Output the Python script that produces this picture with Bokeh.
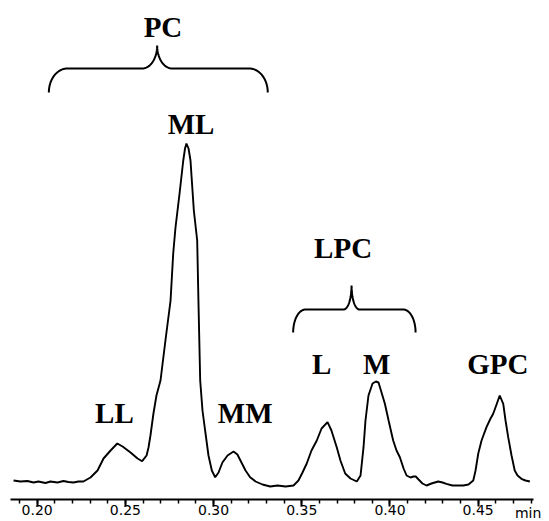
import numpy as np
from bokeh.plotting import figure
from bokeh.models import Range1d, LinearAxis, FixedTicker, NumeralTickFormatter
from bokeh.core.properties import value
from bokeh.embed import file_html
from bokeh.resources import INLINE

# ---- chromatogram trace (time in min, detector signal in arbitrary units) ----
time_min = [0.1866, 0.1905, 0.1945, 0.1979, 0.2007, 0.2047, 0.2075, 0.2115, 0.2149, 0.2177,
            0.2206, 0.2234, 0.2262, 0.2302, 0.2342, 0.2376, 0.2416, 0.2454, 0.2484, 0.2529,
            0.2569, 0.2595, 0.2620, 0.2631, 0.2642, 0.2659, 0.2676, 0.2699, 0.2727, 0.2756,
            0.2771, 0.2784, 0.2807, 0.2828, 0.2838, 0.2846, 0.2858, 0.2869, 0.2888, 0.2907,
            0.2914, 0.2924, 0.2937, 0.2952, 0.2971, 0.2990, 0.3009, 0.3028, 0.3050, 0.3079,
            0.3113, 0.3135, 0.3158, 0.3181, 0.3207, 0.3238, 0.3277, 0.3321, 0.3362, 0.3408,
            0.3453, 0.3481, 0.3504, 0.3528, 0.3555, 0.3585, 0.3612, 0.3646, 0.3668, 0.3698,
            0.3719, 0.3746, 0.3776, 0.3812, 0.3833, 0.3850, 0.3861, 0.3878, 0.3901, 0.3920,
            0.3935, 0.3952, 0.3971, 0.3992, 0.4018, 0.4037, 0.4056, 0.4077, 0.4094, 0.4116,
            0.4133, 0.4146, 0.4162, 0.4184, 0.4207, 0.4235, 0.4273, 0.4298, 0.4320, 0.4354,
            0.4388, 0.4415, 0.4445, 0.4472, 0.4485, 0.4500, 0.4519, 0.4547, 0.4570, 0.4585,
            0.4604, 0.4622, 0.4642, 0.4655, 0.4670, 0.4689, 0.4707, 0.4723, 0.4745, 0.4768,
            0.4793]
signal = [19, 18, 18.5, 17, 18, 16.5, 18, 17, 18.5, 17.5,
          17, 18, 18, 22, 29, 41, 49, 56, 53, 47,
          41, 38.3, 44, 52, 64, 86, 104, 119, 159, 199,
          246, 272, 306, 339, 351, 356, 351, 339, 289, 259,
          199, 119, 89, 69, 44, 29, 22.3, 27, 37, 44,
          48, 45, 37, 29, 22.3, 18, 15, 13, 14, 13,
          14, 19, 27, 36, 49, 59, 71, 77.3, 69, 52.3,
          39, 26, 21, 18, 24, 52.3, 79, 104, 116, 118,
          117, 107, 95.7, 79, 59, 49, 42.3, 31, 24, 22,
          23, 23, 20, 16, 14, 16, 18, 17, 15.7, 14,
          14, 14, 15, 19, 29, 45.7, 59, 72.3, 81, 85.7,
          95, 104, 95.7, 79, 62.3, 44, 29, 24, 20.7, 19,
          18]

# ---- axis ticks ----
tick_values = [0.20, 0.25, 0.30, 0.35, 0.40, 0.45]
tick_labels = ["0.20", "0.25", "0.30", "0.35", "0.40", "0.45"]
minor_values = [round(0.19 + 0.01 * i, 2) for i in range(30)]
axis_unit = "min"
axis_unit_pos = 0.4783

# ---- peak / group labels ----
peak_names = ["ML", "LL", "MM", "L", "M", "GPC"]
group_names = ["PC", "LPC"]

# label placement (data coordinates)
peak_label_x = [0.2872, 0.2438, 0.3179, 0.3612, 0.3924, 0.4611]
peak_label_y = [376, 87, 87, 136, 136, 136]
group_label_x = [0.2713, 0.3734]
group_label_y = [473, 252]

# brace geometry: (x_start, x_end, x_tip, y_end, y_line, y_tip, end_radius, tip_radius)
braces = [
    (0.2066, 0.3307, 0.2680, 407, 431, 454, 0.0105, 0.0085),
    (0.3451, 0.4145, 0.3782, 167, 190, 214, 0.0070, 0.0045),
]


def brace_path(x0, x1, xt, ye, yh, yt, re, rt, n=24):
    ry_e = yh - ye
    ry_t = yt - yh
    a = np.linspace(np.pi, np.pi / 2, n)
    lx = x0 + re + re * np.cos(a)
    ly = ye + ry_e * np.sin(a)
    b = np.linspace(-np.pi / 2, 0, n)
    tx = xt - rt + rt * np.cos(b)
    ty = yt + ry_t * np.sin(b)
    b2 = np.linspace(np.pi, 3 * np.pi / 2, n)
    tx2 = xt + rt + rt * np.cos(b2)
    ty2 = yt + ry_t * np.sin(b2)
    a2 = np.linspace(np.pi / 2, 0, n)
    rx_ = x1 - re + re * np.cos(a2)
    ry_ = ye + ry_e * np.sin(a2)
    xs = np.concatenate([lx, tx, tx2, rx_])
    ys = np.concatenate([ly, ty, ty2, ry_])
    return xs, ys


p = figure(width=549, height=521,
           x_range=Range1d(0.179195, 0.490420), y_range=Range1d(-22, 499),
           x_axis_location=None, y_axis_location=None,
           toolbar_location=None, output_backend="svg", min_border=0)
p.outline_line_color = None
p.background_fill_color = "white"
p.grid.visible = False

p.line(time_min, signal, line_color="black", line_width=1.9)

for (x0, x1, xt, ye, yh, yt, re, rt) in braces:
    xs, ys = brace_path(x0, x1, xt, ye, yh, yt, re, rt)
    p.line(xs, ys, line_color="black", line_width=2)

label_font = value("Liberation Serif")
p.text(x=peak_label_x, y=peak_label_y, text=peak_names, text_font=label_font,
       text_font_style="bold", text_font_size="29px", text_align="center",
       text_baseline="alphabetic", text_color="black")
p.text(x=group_label_x, y=group_label_y, text=group_names, text_font=label_font,
       text_font_style="bold", text_font_size="29px", text_align="center",
       text_baseline="alphabetic", text_color="black")


def style_axis(a):
    a.major_tick_in = 0
    a.major_tick_out = 7
    a.minor_tick_in = 0
    a.minor_tick_out = 4
    a.major_label_standoff = -1
    a.major_label_text_font = "DejaVu Sans"
    a.major_label_text_font_size = "14px"
    a.major_label_text_color = "black"


ax = LinearAxis(fixed_location=0.5,
                ticker=FixedTicker(ticks=tick_values, minor_ticks=minor_values),
                formatter=NumeralTickFormatter(format="0.00"),
                bounds=(0.18486, 0.48135))
ax.major_label_overrides = {v: l for v, l in zip(tick_values, tick_labels)}
ax.axis_line_width = 2
ax.axis_line_color = "black"
ax.major_tick_line_width = 2
ax.minor_tick_line_width = 1.5
style_axis(ax)
p.add_layout(ax, "below")

# unit label drawn as a label-only axis aligned with the tick labels
ux = LinearAxis(fixed_location=0.5, ticker=FixedTicker(ticks=[axis_unit_pos], minor_ticks=[]))
ux.major_label_overrides = {axis_unit_pos: axis_unit}
ux.axis_line_color = None
ux.major_tick_line_color = None
ux.minor_tick_line_color = None
style_axis(ux)
p.add_layout(ux, "below")

open("out.html", "w").write(file_html(p, INLINE))
